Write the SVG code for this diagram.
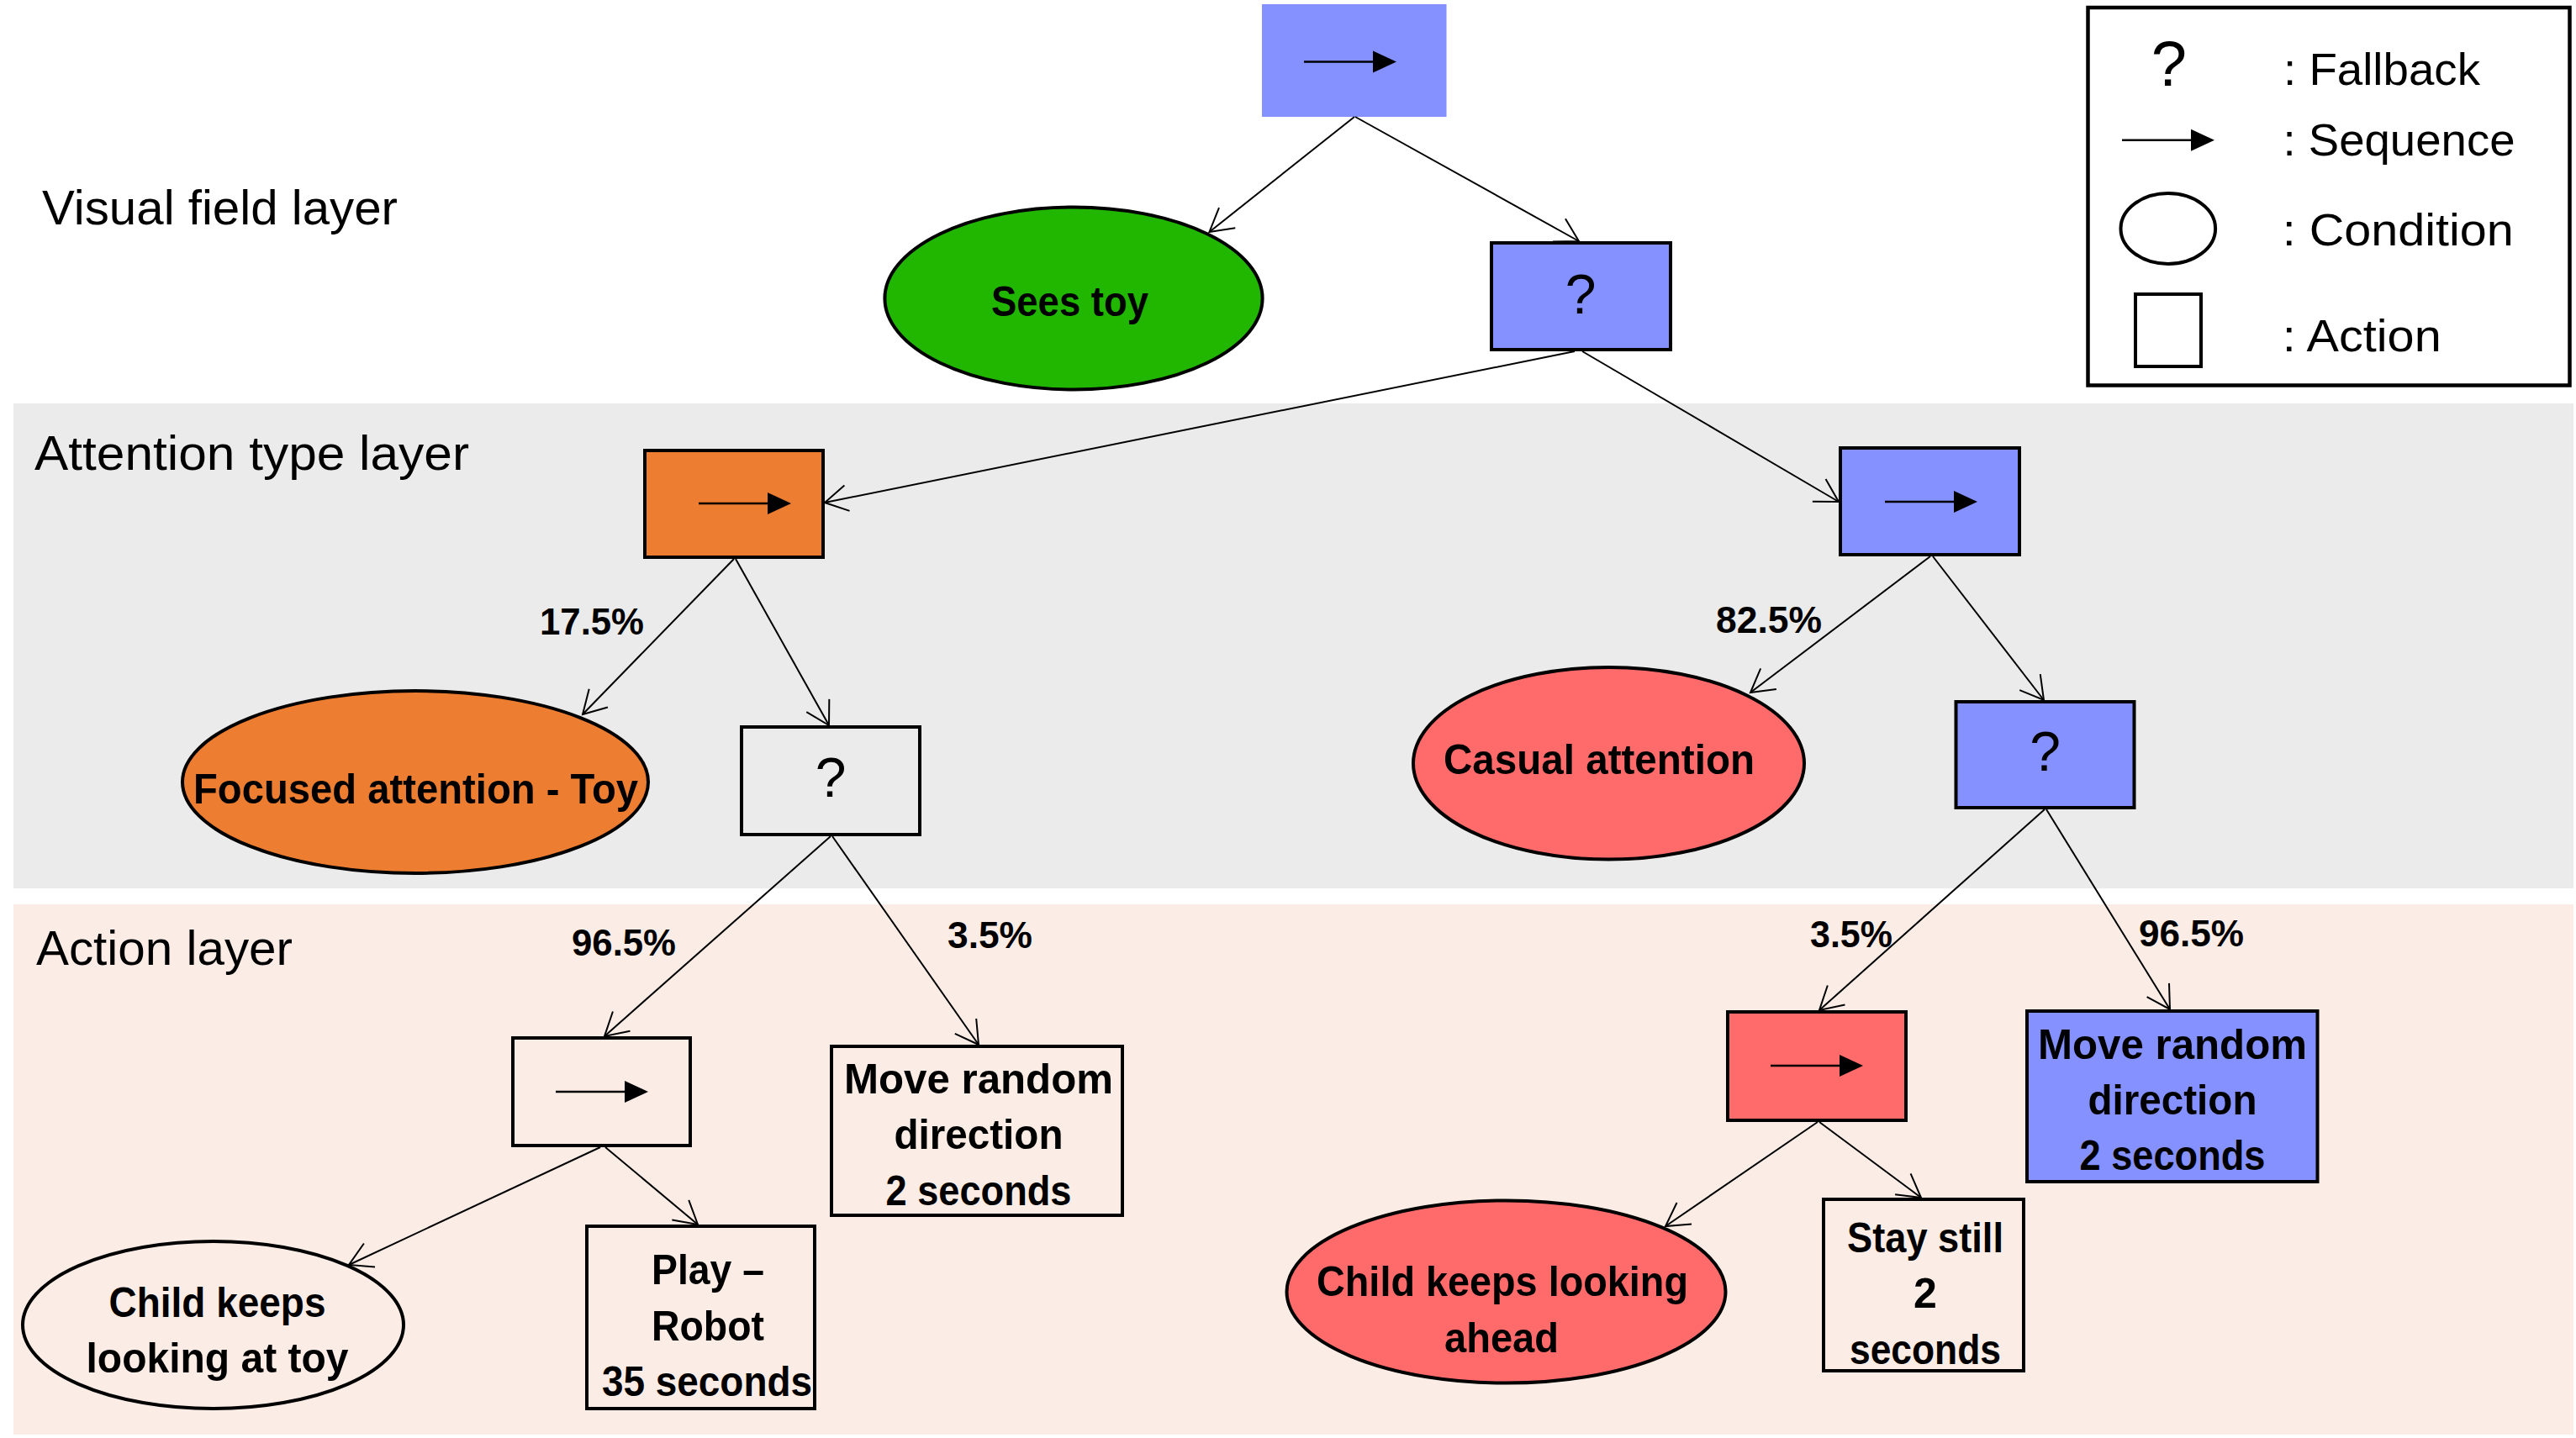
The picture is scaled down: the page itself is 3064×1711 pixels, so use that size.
<svg xmlns="http://www.w3.org/2000/svg" xmlns:xlink="http://www.w3.org/1999/xlink" width="3064" height="1711" viewBox="0 0 3064 1711">
<style>
.lbl{font-family:"Liberation Sans",Arial,sans-serif;font-size:57px;fill:#000}
.leg{font-family:"Liberation Sans",Arial,sans-serif;font-size:54px;fill:#000}
.nl{font-family:"Liberation Sans",Arial,sans-serif;font-size:50px;font-weight:bold;fill:#000;text-anchor:middle}
.pc{font-family:"Liberation Sans",Arial,sans-serif;font-size:45px;font-weight:bold;fill:#000;text-anchor:middle}
.q{font-family:"Liberation Sans",Arial,sans-serif;font-size:66px;fill:#000;text-anchor:middle}
.box{stroke:#000;stroke-width:4}
.conn{stroke:#000;stroke-width:2;fill:none;marker-end:url(#arr)}
</style>
<defs>
<marker id="arr" markerUnits="userSpaceOnUse" markerWidth="40" markerHeight="40" viewBox="-35 -20 40 40" refX="0" refY="0" orient="auto" overflow="visible">
<path d="M-27,-15.5 L0,0 L-27,15.5" fill="none" stroke="#000" stroke-width="2"/>
</marker>
<g id="seq">
<line x1="0" y1="0" x2="84" y2="0" stroke="#000" stroke-width="2.5"/>
<polygon points="82,-13 110,0 82,13" fill="#000"/>
</g>
</defs>
<rect x="0" y="0" width="3064" height="1711" fill="#fff"/>
<g id="bands">
<rect x="16" y="480" width="3045" height="577" fill="#EBEBEB"/>
<rect x="16" y="1076" width="3045" height="631" fill="#FBEDE5"/>
</g>
<g id="layer-labels">
<text class="lbl" x="50" y="267" textLength="423" lengthAdjust="spacingAndGlyphs">Visual field layer</text>
<text class="lbl" x="41" y="559" textLength="517" lengthAdjust="spacingAndGlyphs">Attention type layer</text>
<text class="lbl" x="43" y="1148" textLength="305" lengthAdjust="spacingAndGlyphs">Action layer</text>
</g>
<g id="legend">
<rect x="2483.5" y="9" width="573" height="449.5" fill="#fff" stroke="#000" stroke-width="4.5"/>
<text x="2580" y="101.5" style="font-family:'Liberation Sans',Arial,sans-serif;font-size:76px;text-anchor:middle">?</text>
<text class="leg" x="2716" y="101" textLength="234" lengthAdjust="spacingAndGlyphs">: Fallback</text>
<use xlink:href="#seq" href="#seq" x="2524" y="166.7"/>
<text class="leg" x="2715.5" y="185" textLength="276" lengthAdjust="spacingAndGlyphs">: Sequence</text>
<ellipse cx="2578.8" cy="272" rx="56.3" ry="42" fill="none" stroke="#000" stroke-width="4"/>
<text class="leg" x="2714.7" y="291.7" textLength="275" lengthAdjust="spacingAndGlyphs">: Condition</text>
<rect x="2540" y="350" width="78" height="86" fill="none" stroke="#000" stroke-width="4"/>
<text class="leg" x="2714.7" y="418" textLength="189" lengthAdjust="spacingAndGlyphs">: Action</text>
</g>
<g id="root-sequence">
<rect x="1501" y="5" width="219.5" height="134" fill="#8491FF"/>
<use xlink:href="#seq" href="#seq" x="1551" y="73.5"/>
</g>
<g id="sees-toy">
<ellipse class="box" cx="1277" cy="355" rx="224.6" ry="108.5" fill="#21B700"/>
<text class="nl" x="1272.5" y="376" textLength="187" lengthAdjust="spacingAndGlyphs">Sees toy</text>
</g>
<g id="fallback-attention">
<rect class="box" x="1774" y="289" width="213" height="127" fill="#8491FF"/>
<text class="q" x="1880" y="373">?</text>
</g>
<g id="focused-sequence">
<rect class="box" x="767" y="536" width="212" height="127" fill="#ED7D31"/>
<use xlink:href="#seq" href="#seq" x="831" y="599"/>
</g>
<g id="focused-attention">
<ellipse class="box" cx="494" cy="930.5" rx="277" ry="108.5" fill="#ED7D31"/>
<text class="nl" x="494.5" y="956" textLength="529" lengthAdjust="spacingAndGlyphs">Focused attention - Toy</text>
</g>
<g id="focused-fallback">
<rect class="box" x="882" y="865" width="212" height="128" fill="none"/>
<text class="q" x="988" y="948">?</text>
</g>
<g id="casual-sequence">
<rect class="box" x="2189" y="533" width="213" height="127" fill="#8491FF"/>
<use xlink:href="#seq" href="#seq" x="2242" y="597"/>
</g>
<g id="casual-attention">
<ellipse class="box" cx="1913.5" cy="908.3" rx="232.5" ry="114.3" fill="#FF6B6B"/>
<text class="nl" x="1902" y="921" textLength="370" lengthAdjust="spacingAndGlyphs">Casual attention</text>
</g>
<g id="casual-fallback">
<rect class="box" x="2326.5" y="835" width="212" height="126" fill="#8491FF"/>
<text class="q" x="2432.5" y="917">?</text>
</g>
<g id="play-sequence">
<rect class="box" x="610" y="1235" width="211" height="128" fill="none"/>
<use xlink:href="#seq" href="#seq" x="661" y="1299"/>
</g>
<g id="move-random-left">
<rect class="box" x="989" y="1245" width="346" height="201" fill="none"/>
<text class="nl" x="1164" y="1301" textLength="320" lengthAdjust="spacingAndGlyphs">Move random</text>
<text class="nl" x="1164" y="1367" textLength="201" lengthAdjust="spacingAndGlyphs">direction</text>
<text class="nl" x="1164" y="1434" textLength="221" lengthAdjust="spacingAndGlyphs">2 seconds</text>
</g>
<g id="child-looking-toy">
<ellipse class="box" cx="253.5" cy="1576.5" rx="226.5" ry="99.5" fill="none"/>
<text class="nl" x="258.5" y="1567" textLength="258" lengthAdjust="spacingAndGlyphs">Child keeps</text>
<text class="nl" x="258.5" y="1633" textLength="312" lengthAdjust="spacingAndGlyphs">looking at toy</text>
</g>
<g id="play-robot">
<rect class="box" x="698" y="1459" width="271" height="217" fill="none"/>
<text class="nl" x="842" y="1528" textLength="134" lengthAdjust="spacingAndGlyphs">Play –</text>
<text class="nl" x="842" y="1595" textLength="134" lengthAdjust="spacingAndGlyphs">Robot</text>
<text class="nl" x="841" y="1661" textLength="250" lengthAdjust="spacingAndGlyphs">35 seconds</text>
</g>
<g id="stay-sequence">
<rect class="box" x="2055" y="1204" width="212" height="129" fill="#FF6B6B"/>
<use xlink:href="#seq" href="#seq" x="2106" y="1268"/>
</g>
<g id="move-random-right">
<rect class="box" x="2411" y="1203" width="345.5" height="203" fill="#8491FF"/>
<text class="nl" x="2584" y="1260" textLength="320" lengthAdjust="spacingAndGlyphs">Move random</text>
<text class="nl" x="2584" y="1326" textLength="201" lengthAdjust="spacingAndGlyphs">direction</text>
<text class="nl" x="2584" y="1392" textLength="221" lengthAdjust="spacingAndGlyphs">2 seconds</text>
</g>
<g id="child-looking-ahead">
<ellipse class="box" cx="1791.5" cy="1537" rx="261" ry="108.6" fill="#FF6B6B"/>
<text class="nl" x="1787" y="1542" textLength="442" lengthAdjust="spacingAndGlyphs">Child keeps looking</text>
<text class="nl" x="1786" y="1609" textLength="136" lengthAdjust="spacingAndGlyphs">ahead</text>
</g>
<g id="stay-still">
<rect class="box" x="2169" y="1427" width="238" height="204" fill="none"/>
<text class="nl" x="2290" y="1490" textLength="186" lengthAdjust="spacingAndGlyphs">Stay still</text>
<text class="nl" x="2290" y="1556">2</text>
<text class="nl" x="2290" y="1622.5" textLength="180" lengthAdjust="spacingAndGlyphs">seconds</text>
</g>
<g id="connectors">
<line class="conn" x1="1611" y1="139" x2="1438.5" y2="276"/>
<line class="conn" x1="1612" y1="139" x2="1878" y2="287"/>
<line class="conn" x1="1873" y1="418" x2="981" y2="598"/>
<line class="conn" x1="1882" y1="418" x2="2187" y2="597"/>
<line class="conn" x1="873" y1="665" x2="693" y2="850"/>
<line class="conn" x1="875" y1="665" x2="986" y2="863"/>
<line class="conn" x1="2296" y1="662" x2="2082" y2="824"/>
<line class="conn" x1="2299" y1="662" x2="2431" y2="833"/>
<line class="conn" x1="988" y1="995" x2="719" y2="1233"/>
<line class="conn" x1="990" y1="995" x2="1164" y2="1243"/>
<line class="conn" x1="2432" y1="963" x2="2164" y2="1202"/>
<line class="conn" x1="2434" y1="963" x2="2581" y2="1201"/>
<line class="conn" x1="714" y1="1365" x2="415" y2="1505"/>
<line class="conn" x1="720" y1="1365" x2="830" y2="1457"/>
<line class="conn" x1="2162" y1="1335" x2="1981" y2="1459"/>
<line class="conn" x1="2164" y1="1335" x2="2285" y2="1425"/>
</g>
<g id="edge-labels">
<text class="pc" x="704" y="755" textLength="124" lengthAdjust="spacingAndGlyphs">17.5%</text>
<text class="pc" x="2104" y="753" textLength="126" lengthAdjust="spacingAndGlyphs">82.5%</text>
<text class="pc" x="742" y="1137" textLength="124" lengthAdjust="spacingAndGlyphs">96.5%</text>
<text class="pc" x="1177.5" y="1128" textLength="101" lengthAdjust="spacingAndGlyphs">3.5%</text>
<text class="pc" x="2202" y="1127" textLength="98" lengthAdjust="spacingAndGlyphs">3.5%</text>
<text class="pc" x="2606.5" y="1126" textLength="125" lengthAdjust="spacingAndGlyphs">96.5%</text>
</g>
</svg>
